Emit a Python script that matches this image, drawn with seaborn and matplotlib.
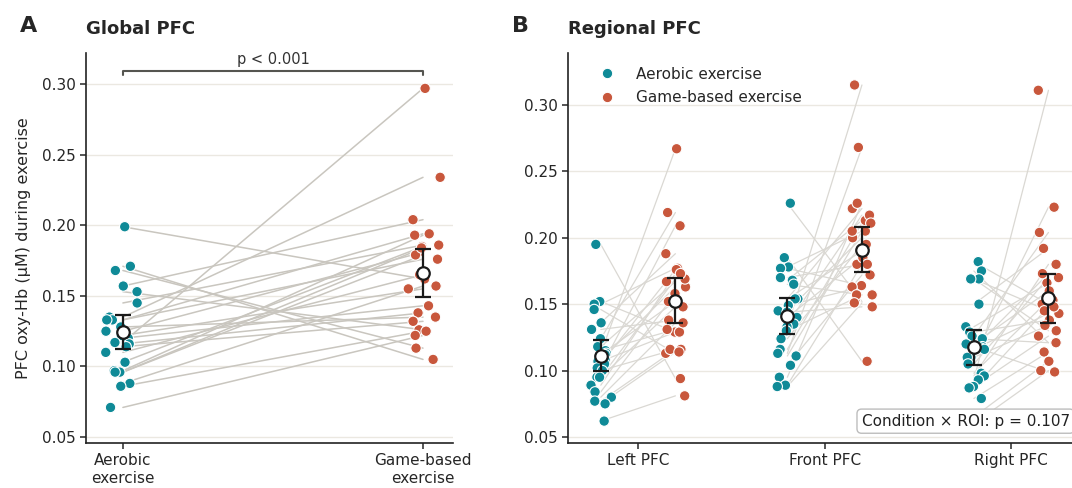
import numpy as np
import pandas as pd
import matplotlib
matplotlib.use("Agg")
import matplotlib.pyplot as plt
import seaborn as sns

# ---- data ----
conditions = ["Aerobic\nexercise", "Game-based\nexercise"]
legend_names = ["Aerobic exercise", "Game-based exercise"]
rois = ["Left PFC", "Front PFC", "Right PFC"]

# Global PFC, paired by subject
global_aerobic = [0.199, 0.171, 0.168, 0.157, 0.153, 0.145, 0.135, 0.133, 0.133, 0.128, 0.125, 0.122,
                  0.120, 0.117, 0.116, 0.114, 0.110, 0.103, 0.097, 0.096, 0.096, 0.088, 0.086, 0.071]
global_game = [0.162, 0.105, 0.113, 0.204, 0.126, 0.186, 0.234, 0.194, 0.176, 0.135, 0.181, 0.155,
               0.143, 0.297, 0.138, 0.132, 0.165, 0.185, 0.193, 0.179, 0.184, 0.157, 0.125, 0.122]

# Regional PFC, paired by subject
left_aerobic = [0.195, 0.152, 0.150, 0.146, 0.136, 0.131, 0.124, 0.118, 0.115, 0.113, 0.112, 0.108,
                0.107, 0.105, 0.102, 0.100, 0.095, 0.095, 0.089, 0.084, 0.080, 0.077, 0.075, 0.062]
left_game = [0.094, 0.129, 0.177, 0.113, 0.188, 0.138, 0.219, 0.167, 0.131, 0.267, 0.152, 0.163,
             0.129, 0.176, 0.209, 0.116, 0.169, 0.148, 0.173, 0.158, 0.136, 0.116, 0.114, 0.081]
front_aerobic = [0.226, 0.185, 0.178, 0.177, 0.170, 0.168, 0.165, 0.154, 0.154, 0.149, 0.145, 0.144,
                 0.140, 0.135, 0.133, 0.130, 0.124, 0.116, 0.113, 0.111, 0.104, 0.095, 0.089, 0.088]
front_game = [0.152, 0.107, 0.205, 0.164, 0.180, 0.213, 0.157, 0.190, 0.222, 0.163, 0.200, 0.148,
              0.185, 0.217, 0.315, 0.157, 0.195, 0.211, 0.268, 0.205, 0.172, 0.226, 0.180, 0.151]
right_aerobic = [0.182, 0.175, 0.169, 0.169, 0.150, 0.133, 0.129, 0.126, 0.124, 0.120, 0.118, 0.117,
                 0.116, 0.110, 0.110, 0.105, 0.098, 0.096, 0.093, 0.088, 0.087, 0.079, 0.065, 0.060]
right_game = [0.150, 0.121, 0.130, 0.145, 0.192, 0.166, 0.138, 0.204, 0.121, 0.160, 0.099, 0.173,
              0.143, 0.223, 0.134, 0.170, 0.153, 0.180, 0.311, 0.126, 0.148, 0.114, 0.107, 0.100]

y_ticks = [0.05, 0.10, 0.15, 0.20, 0.25, 0.30]
p_global = "p < 0.001"
p_interaction = "Condition \u00d7 ROI: p = 0.107"

TEAL = "#0f8a97"
RED = "#c8573c"
LINE_A = "#c9c6bf"
LINE_B = "#dad8d3"
GRID = "#ebe8e1"

sns.set_style("ticks")
plt.rcParams["font.family"] = ["DejaVu Sans"]
plt.rcParams["axes.linewidth"] = 1.2
plt.rcParams["axes.edgecolor"] = "#222222"
np.random.seed(3)


def ci95(vals):
    v = np.asarray(vals)
    return v.mean(), 1.96 * v.std(ddof=1) / np.sqrt(len(v))


fig = plt.figure(figsize=(10.72, 4.88), dpi=100)
axA = fig.add_axes([0.0802, 0.0922, 0.3424, 0.799])
axB = fig.add_axes([0.530, 0.0922, 0.4785, 0.799])

# ---------------- Panel A ----------------
dfA = pd.DataFrame({
    "condition": [conditions[0]] * len(global_aerobic) + [conditions[1]] * len(global_game),
    "value": global_aerobic + global_game,
})
for a, g in zip(global_aerobic, global_game):
    axA.plot([0, 1], [a, g], color=LINE_A, lw=1.1, zorder=1)
sns.stripplot(data=dfA, x="condition", y="value", hue="condition", order=conditions,
              hue_order=conditions, palette=[TEAL, RED], jitter=0.06, size=7.5,
              edgecolor="white", linewidth=0.8, legend=False, ax=axA, zorder=3)
for i, vals in enumerate([global_aerobic, global_game]):
    m, e = ci95(vals)
    axA.errorbar(i, m, yerr=e, fmt="o", mfc="white", mec="#1a1a1a", ms=9, mew=1.6,
                 ecolor="#1a1a1a", elinewidth=1.6, capsize=6, capthick=1.6, zorder=5)

axA.set_xlim(-0.123, 1.1)
axA.set_ylim(0.0458, 0.322)
axA.set_yticks(y_ticks)
axA.set_yticklabels([f"{t:.2f}" for t in y_ticks])
axA.set_xlabel("")
axA.set_ylabel("PFC oxy-Hb (\u03bcM) during exercise", fontsize=11.5, labelpad=8)
axA.tick_params(labelsize=11, width=1.1, length=4)
axA.yaxis.grid(True, color=GRID, lw=1)
axA.set_axisbelow(True)
sns.despine(ax=axA)
axA.set_title("Global PFC", loc="left", fontsize=13, fontweight="bold", pad=14)
axA.plot([0, 0, 1, 1], [0.3062, 0.3093, 0.3093, 0.3062], color="#555550", lw=1.5,
         clip_on=False)
axA.text(0.5, 0.3125, p_global, ha="center", va="bottom", fontsize=10.5, color="#333333")

# ---------------- Panel B ----------------
roi_data = [(left_aerobic, left_game), (front_aerobic, front_game), (right_aerobic, right_game)]
rows = []
for roi, (a_vals, g_vals) in zip(rois, roi_data):
    rows += [(roi, legend_names[0], v) for v in a_vals]
    rows += [(roi, legend_names[1], v) for v in g_vals]
dfB = pd.DataFrame(rows, columns=["roi", "condition", "value"])

for i, (a_vals, g_vals) in enumerate(roi_data):
    for a, g in zip(a_vals, g_vals):
        axB.plot([i - 0.2, i + 0.2], [a, g], color=LINE_B, lw=0.9, zorder=1)
sns.stripplot(data=dfB, x="roi", y="value", hue="condition", order=rois,
              hue_order=legend_names, palette=[TEAL, RED], dodge=True, jitter=0.12,
              size=7.5, edgecolor="white", linewidth=0.8, ax=axB, zorder=3)
for i, (a_vals, g_vals) in enumerate(roi_data):
    for off, vals in zip([-0.2, 0.2], [a_vals, g_vals]):
        m, e = ci95(vals)
        axB.errorbar(i + off, m, yerr=e, fmt="o", mfc="white", mec="#1a1a1a", ms=9, mew=1.6,
                     ecolor="#1a1a1a", elinewidth=1.6, capsize=6, capthick=1.6, zorder=5)

axB.set_xlim(-0.375, 2.375)
axB.set_ylim(0.0455, 0.339)
axB.set_yticks(y_ticks)
axB.set_yticklabels([f"{t:.2f}" for t in y_ticks])
axB.set_xlabel("")
axB.set_ylabel("")
axB.tick_params(labelsize=11, width=1.1, length=4)
axB.yaxis.grid(True, color=GRID, lw=1)
axB.set_axisbelow(True)
sns.despine(ax=axB)
axB.set_title("Regional PFC", loc="left", fontsize=13, fontweight="bold", pad=14)
axB.legend(loc="upper left", bbox_to_anchor=(0.02, 1.0), frameon=False, fontsize=11,
           handletextpad=0.9, labelspacing=0.55)
axB.text(0.572, 0.056, p_interaction, transform=axB.transAxes, ha="left", va="center",
         fontsize=11, color="#222222", zorder=10,
         bbox=dict(boxstyle="round,pad=0.3", fc="white", ec="#bdbdbd", lw=1))

fig.text(0.019, 0.934, "A", fontsize=16, fontweight="bold")
fig.text(0.478, 0.934, "B", fontsize=16, fontweight="bold")

fig.savefig("out.png", dpi=100)
